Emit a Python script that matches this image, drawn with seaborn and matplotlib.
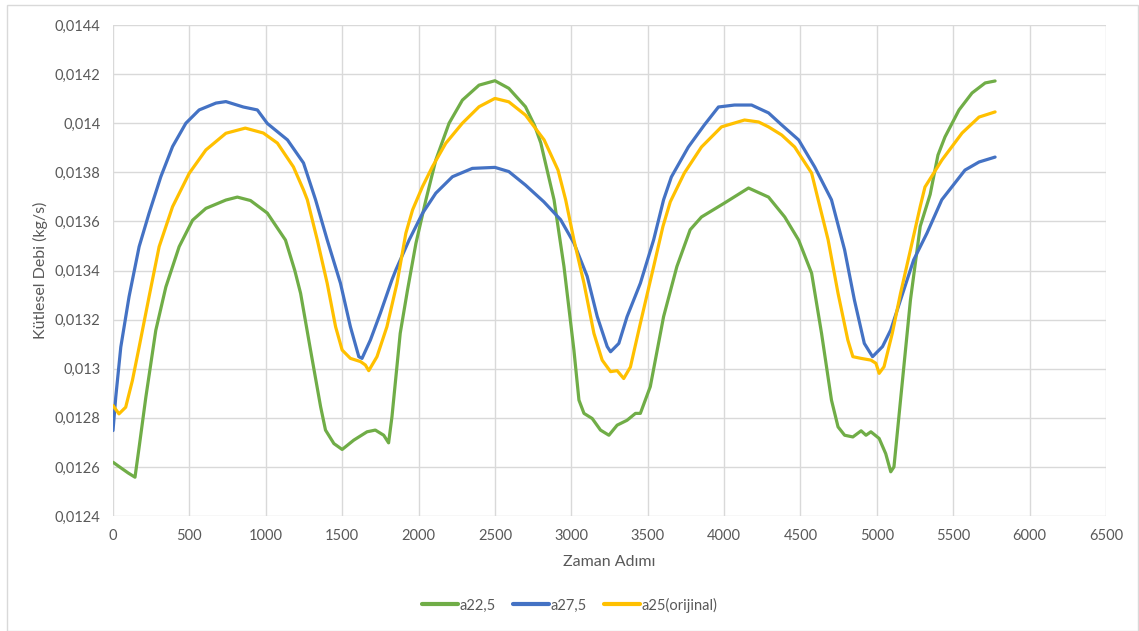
import matplotlib
matplotlib.use("Agg")
import matplotlib.pyplot as plt
import matplotlib.ticker as mticker
from matplotlib.lines import Line2D
from matplotlib.patches import Rectangle
import seaborn as sns
import pandas as pd

series_names = ["a22,5", "a27,5", "a25(orijinal)"]
colors = ["#70AD47", "#4472C4", "#FFC000"]

green_x = [0, 61, 100, 144, 171, 215, 280, 346, 433, 521, 608, 739, 814, 900, 1010, 1129, 1190, 1228,
           1293, 1359, 1391, 1446, 1500, 1576, 1663, 1717, 1772, 1804, 1826, 1880, 1928, 1983, 2048,
           2113, 2200, 2287, 2396, 2500, 2591, 2700, 2760, 2800, 2887, 2952, 3017, 3050, 3083, 3137,
           3191, 3246, 3300, 3365, 3420, 3452, 3517, 3604, 3691, 3778, 3852, 4003, 4160, 4291, 4397,
           4488, 4573, 4638, 4703, 4746, 4789, 4843, 4897, 4929, 4961, 5015, 5058, 5091, 5112, 5155,
           5220, 5284, 5349, 5400, 5446, 5538, 5623, 5709, 5774]
green_y = [0.012619, 0.012592, 0.012575, 0.012558, 0.01268, 0.012884, 0.013156, 0.013333, 0.013497,
           0.013605, 0.013653, 0.013687, 0.013699, 0.013685, 0.013634, 0.013524, 0.01340, 0.013307,
           0.013076, 0.012845, 0.01275, 0.012695, 0.012671, 0.012709, 0.012743, 0.01275, 0.012729,
           0.012698, 0.012804, 0.013144, 0.013321, 0.013511, 0.013687,
           0.01385, 0.014, 0.014094, 0.014155, 0.014173, 0.014142, 0.014067, 0.01399, 0.01392,
           0.013688, 0.013416, 0.013076, 0.012872, 0.012818, 0.012797,
           0.01275, 0.012729, 0.01277, 0.01279, 0.012818, 0.012818, 0.012927, 0.013212, 0.013416,
           0.013566, 0.013618, 0.013675, 0.013736, 0.013699, 0.013618,
           0.013524, 0.013389, 0.013144, 0.012872, 0.012763, 0.012729, 0.012722, 0.012747, 0.012729,
           0.012743, 0.012716, 0.012654, 0.01258, 0.0126, 0.012872,
           0.01328, 0.01358, 0.01371, 0.01387, 0.013944, 0.014054, 0.014123, 0.014164, 0.014172]

blue_x = [0, 18, 51, 105, 171, 236, 313, 390, 477, 564, 674, 739, 853, 945, 1010, 1142, 1247, 1326,
          1402, 1489, 1554, 1609, 1630, 1685, 1750, 1826, 1852, 1939, 2026, 2113, 2222, 2352, 2500,
          2591, 2700, 2820, 2930, 3017, 3104, 3170, 3235, 3257, 3311, 3365, 3452, 3539, 3604, 3655,
          3766, 3871, 3963, 4068, 4180, 4291, 4377, 4488, 4593, 4703, 4789, 4853, 4918, 4972, 5037,
          5091, 5155, 5241, 5328, 5425, 5577, 5669, 5774]
blue_y = [0.012748, 0.012884, 0.013088, 0.013293, 0.013497, 0.013633, 0.013782, 0.013905, 0.014,
          0.014054, 0.014082, 0.014088, 0.014066, 0.014054, 0.013999, 0.013932, 0.013838, 0.013688,
          0.013525, 0.013348, 0.013171, 0.013049, 0.013042, 0.013117, 0.013226, 0.013362, 0.013403,
          0.013525, 0.013633, 0.013715, 0.013782, 0.013816, 0.01382,
          0.013803, 0.013748, 0.01368, 0.013607, 0.013512, 0.013376, 0.013212, 0.01309, 0.013069,
          0.013103, 0.013212, 0.013348, 0.013525, 0.013688, 0.013781,
          0.013903, 0.013993, 0.014066, 0.014074, 0.014074, 0.014042, 0.013993, 0.013932, 0.013822,
          0.013688, 0.013484, 0.01328, 0.013103, 0.013049, 0.01309,
          0.013158, 0.01328, 0.013443, 0.013552, 0.013688, 0.013809, 0.013842, 0.013862]

yellow_x = [0, 39, 83, 127, 171, 236, 302, 390, 499, 608, 739, 866, 984, 1076, 1181, 1247, 1272, 1337,
            1402, 1457, 1500, 1554, 1620, 1652, 1674, 1728, 1793, 1859, 1917, 1961, 2026, 2091, 2178,
            2287, 2396, 2500, 2591, 2700, 2822, 2913, 2963, 3017, 3083, 3148, 3202, 3257, 3300, 3343,
            3387, 3452, 3539, 3600, 3648, 3740, 3852, 3983, 4134, 4226, 4291, 4377, 4462, 4573, 4616,
            4681, 4746, 4810, 4843, 4897, 4961, 4994, 5015, 5047, 5101, 5155, 5220, 5284, 5315, 5426,
            5558, 5669, 5774]
yellow_y = [0.01285, 0.012816, 0.012843, 0.012952, 0.013088, 0.013293, 0.013497, 0.01366, 0.013796,
            0.013891, 0.013959, 0.01398, 0.01396, 0.013919, 0.013822, 0.013728, 0.013688, 0.013525,
            0.013348, 0.013171, 0.013076, 0.013042, 0.013029, 0.013015, 0.012992, 0.013049, 0.013171,
            0.013348, 0.013552, 0.013647, 0.013742, 0.013823, 0.013918,
            0.014, 0.014067, 0.014101, 0.014087, 0.014033, 0.013932, 0.013809, 0.013688, 0.013525,
            0.013348, 0.013144, 0.013035, 0.012988, 0.012992, 0.01296,
            0.013007, 0.013185, 0.013416, 0.01358, 0.01368, 0.013797, 0.013903, 0.013985, 0.014013,
            0.014005, 0.013985, 0.013952, 0.013903, 0.013797, 0.013688,
            0.013525, 0.013307, 0.013117, 0.013049, 0.013042, 0.013035, 0.013022, 0.012981, 0.013008,
            0.013144, 0.013307, 0.013484, 0.013661, 0.01374, 0.01385,
            0.01396, 0.014025, 0.014046]

x_ticks = list(range(0, 6501, 500))
y_ticks = [0.0124 + 0.0002 * i for i in range(11)]
x_label = "Zaman Adımı"
y_label = "Kütlesel Debi (kg/s)"

frames = []
for name, xs, ys in zip(series_names, [green_x, blue_x, yellow_x], [green_y, blue_y, yellow_y]):
    frames.append(pd.DataFrame({"t": xs, "v": ys, "seri": name}))
df = pd.concat(frames, ignore_index=True)

sns.set_theme(style="white")
plt.rcParams["font.family"] = ["Lato", "DejaVu Sans"]

fig = plt.figure(figsize=(11.39, 6.31), dpi=100)
ax = fig.add_axes([113 / 1139, 1 - 516 / 631, (1106 - 113) / 1139, (516 - 25) / 631])

sns.lineplot(data=df, x="t", y="v", hue="seri", hue_order=series_names,
             palette=dict(zip(series_names, colors)), linewidth=2.3,
             estimator=None, sort=True, legend=False, ax=ax)
for ln in ax.get_lines():
    ln.set_solid_joinstyle("round")
    ln.set_solid_capstyle("round")

ax.set_xlim(0, 6500)
ax.set_ylim(0.0124, 0.0144)
ax.set_xticks(x_ticks)
ax.set_yticks(y_ticks)
ax.yaxis.set_major_formatter(mticker.FuncFormatter(
    lambda v, p: (f"{v:.4f}".rstrip("0").rstrip(".")).replace(".", ",")))
ax.xaxis.set_major_formatter(mticker.FuncFormatter(lambda v, p: f"{int(round(v))}"))
ax.grid(True, color="#D9D9D9", linewidth=1.0)
ax.set_axisbelow(True)
for s in ax.spines.values():
    s.set_visible(False)
ax.tick_params(axis="both", length=0, labelsize=10.5, colors="#595959", pad=9)
ax.set_xlabel(x_label, fontsize=11.5, color="#595959", labelpad=9)
ax.set_ylabel(y_label, fontsize=11.5, color="#595959", labelpad=5)

handles = [Line2D([0], [0], color=c, linewidth=3.0, solid_capstyle="round") for c in colors]
leg = fig.legend(handles, series_names, loc="center", bbox_to_anchor=(0.5, 1 - 605 / 631),
                 ncol=3, frameon=False, fontsize=10.5, handlelength=2.5, handletextpad=0.1,
                 columnspacing=1.15)
for t in leg.get_texts():
    t.set_color("#595959")

fig.patches.append(Rectangle((7 / 1139, 0), 1 - 8 / 1139, 1 - 5 / 631, transform=fig.transFigure,
                             fill=False, edgecolor="#D9D9D9", linewidth=1.0))

fig.savefig("out.png", dpi=100)
